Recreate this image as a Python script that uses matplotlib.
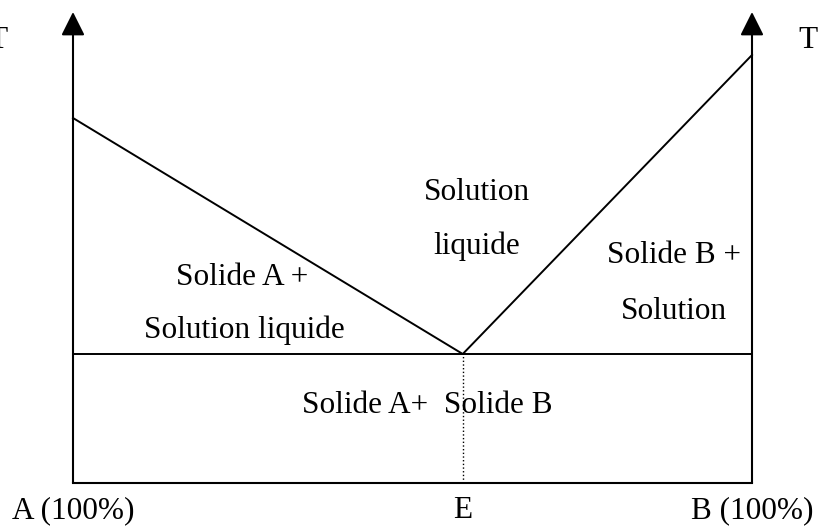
import matplotlib
matplotlib.use('Agg')
import matplotlib.pyplot as plt

# Données du diagramme (composition en % de B, température en unités arbitraires)
composition = [0, 57.4, 100]          # A pur, eutectique E, B pur
T_liquidus = [365, 129, 428]          # T fusion A, T eutectique, T fusion B
T_eutectique = 129
T_max = 471                           # sommet des flèches
labels_bas = ['A (100%)', 'E', 'B (100%)']

plt.rcParams['font.family'] = ['Liberation Serif', 'DejaVu Serif']
taille = 22.5

fig = plt.figure(figsize=(8.2, 5.26), dpi=100)
ax = fig.add_axes([73 / 820, 43 / 526, 679 / 820, 471 / 526])
ax.set_xlim(0, 100)
ax.set_ylim(0, T_max)
ax.axis('off')

# Axes verticaux avec flèches
for x in (composition[0], composition[-1]):
    ax.annotate('', xy=(x, T_max), xytext=(x, 0), annotation_clip=False,
                arrowprops=dict(arrowstyle='-|>,head_length=0.8,head_width=0.4',
                                mutation_scale=18, lw=1.5, color='black',
                                shrinkA=0, shrinkB=0))

# Ligne de base et palier eutectique
ax.plot([composition[0], composition[-1]], [0, 0], color='black', lw=1.5, clip_on=False)
ax.plot([composition[0], composition[-1]], [T_eutectique, T_eutectique], color='black', lw=1.4, clip_on=False)

# Liquidus
ax.plot(composition, T_liquidus, color='black', lw=1.4, clip_on=False)

# Verticale pointillée en E
ax.plot([composition[1], composition[1]], [0, T_eutectique], color='black', lw=1, linestyle=':')

# Textes des domaines
ax.text(59.5, 283, 'Solution', fontsize=taille, ha='center', va='baseline')
ax.text(59.5, 229, 'liquide', fontsize=taille, ha='center', va='baseline')
ax.text(24.9, 198, 'Solide A +', fontsize=taille, ha='center', va='baseline')
ax.text(25.2, 145, 'Solution liquide', fontsize=taille, ha='center', va='baseline')
ax.text(88.5, 220, 'Solide B +', fontsize=taille, ha='center', va='baseline')
ax.text(88.5, 164, 'Solution', fontsize=taille, ha='center', va='baseline')
ax.text(52.1, 70, 'Solide A+  Solide B', fontsize=taille, ha='center', va='baseline')

# Étiquettes du bas
for x, lab in zip(composition, labels_bas):
    ax.text(x, -35, lab, fontsize=taille, ha='center', va='baseline')

# T sur les axes
ax.text(-9.7, 435, 'T', fontsize=taille, ha='right', va='baseline')
ax.text(106.8, 435, 'T', fontsize=taille, ha='left', va='baseline')

plt.savefig('out.png', dpi=100)
plt.close()
